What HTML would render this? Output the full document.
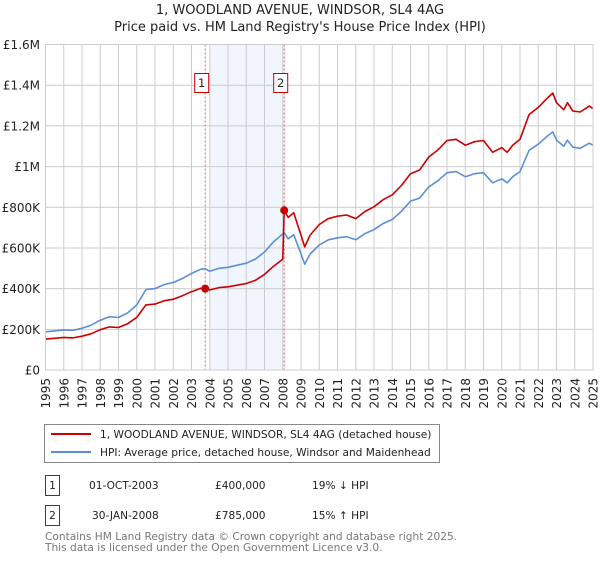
<!DOCTYPE html>
<html><head><meta charset="utf-8"><style>
body{margin:0;background:#fff;font-family:"DejaVu Sans","Liberation Sans",sans-serif;}
svg text{font-family:"DejaVu Sans","Liberation Sans",sans-serif;}
</style></head><body>
<svg id="chart" width="600" height="560" viewBox="0 0 600 560" xmlns="http://www.w3.org/2000/svg">
<text x="300" y="14" text-anchor="middle" font-size="13" fill="#222">1, WOODLAND AVENUE, WINDSOR, SL4 4AG</text>
<text x="300" y="31" text-anchor="middle" font-size="13" fill="#222">Price paid vs. HM Land Registry's House Price Index (HPI)</text>
<g id="plot"></g>
<g>
<rect x="44.5" y="424.5" width="395" height="38" fill="#fff" stroke="#888"/>
<line x1="51" y1="434" x2="91" y2="434" stroke="#cc0000" stroke-width="2"/>
<text x="100" y="438" font-size="10.6" fill="#222">1, WOODLAND AVENUE, WINDSOR, SL4 4AG (detached house)</text>
<line x1="51" y1="452" x2="91" y2="452" stroke="#5b8fd6" stroke-width="2"/>
<text x="100" y="456" font-size="10.6" fill="#222">HPI: Average price, detached house, Windsor and Maidenhead</text>
</g>
<g>
<rect x="45.5" y="475.5" width="14" height="20" fill="#fff" stroke="#cc0000"/>
<text x="52.5" y="489" text-anchor="middle" font-size="10.6" fill="#222">1</text>
<text x="89" y="489" font-size="10.6" fill="#222">01-OCT-2003</text>
<text x="215" y="489" font-size="10.6" fill="#222">£400,000</text>
<text x="312" y="489" font-size="10.6" fill="#222">19% ↓ HPI</text>
<rect x="45.5" y="505.5" width="14" height="20" fill="#fff" stroke="#cc0000"/>
<text x="52.5" y="519" text-anchor="middle" font-size="10.6" fill="#222">2</text>
<text x="92" y="519" font-size="10.6" fill="#222">30-JAN-2008</text>
<text x="215" y="519" font-size="10.6" fill="#222">£785,000</text>
<text x="312" y="519" font-size="10.6" fill="#222">15% ↑ HPI</text>
</g>
<text x="45" y="540" font-size="10.6" fill="#777">Contains HM Land Registry data © Crown copyright and database right 2025.</text>
<text x="45" y="551" font-size="10.6" fill="#777">This data is licensed under the Open Government Licence v3.0.</text>
</svg>
<script>
const hpiDates=[1995,1995.5,1996,1996.5,1997,1997.5,1998,1998.5,1999,1999.5,2000,2000.5,2001,2001.5,2002,2002.5,2003,2003.5,2003.75,2004,2004.5,2005,2005.5,2006,2006.5,2007,2007.5,2008.08,2008.3,2008.6,2009,2009.2,2009.5,2010,2010.5,2011,2011.5,2012,2012.5,2013,2013.5,2014,2014.5,2015,2015.5,2016,2016.5,2017,2017.5,2018,2018.5,2019,2019.5,2020,2020.3,2020.6,2021,2021.5,2022,2022.5,2022.8,2023,2023.4,2023.6,2023.9,2024.3,2024.8,2025];
const hpiValues=[188,192,197,195,205,220,245,262,258,280,320,395,400,420,430,450,475,495,498,485,500,505,515,525,545,580,630,675,645,665,570,520,570,615,640,650,655,640,670,690,720,740,780,830,845,900,930,970,975,950,965,970,920,940,920,950,975,1080,1110,1150,1170,1130,1100,1130,1095,1090,1115,1105];
const propDates=[1995,1995.5,1996,1996.5,1997,1997.5,1998,1998.5,1999,1999.5,2000,2000.5,2001,2001.5,2002,2002.5,2003,2003.5,2003.75,2004,2004.5,2005,2005.5,2006,2006.5,2007,2007.5,2008.0,2008.08,2008.3,2008.6,2009,2009.2,2009.5,2010,2010.5,2011,2011.5,2012,2012.5,2013,2013.5,2014,2014.5,2015,2015.5,2016,2016.5,2017,2017.5,2018,2018.5,2019,2019.5,2020,2020.3,2020.6,2021,2021.5,2022,2022.5,2022.8,2023,2023.4,2023.6,2023.9,2024.3,2024.8,2025];
const propValues=[152,156,160,158,166,178,198,212,209,227,259,320,324,340,348,365,385,401,403,393,405,409,417,425,441,470,510,545,785,750,773,663,605,663,715,744,756,762,744,779,802,837,861,907,965,983,1047,1082,1128,1134,1105,1122,1128,1070,1093,1070,1105,1134,1256,1291,1337,1361,1314,1279,1314,1273,1268,1297,1285];
const saleDates=[2003.75,2008.08];
const saleValues=[400,785];
const saleLabels=["1","2"];
const yTicks=[0,200,400,600,800,1000,1200,1400,1600];
const yTickLabels=["£0","£200K","£400K","£600K","£800K","£1M","£1.2M","£1.4M","£1.6M"];
const xYears=[1995,1996,1997,1998,1999,2000,2001,2002,2003,2004,2005,2006,2007,2008,2009,2010,2011,2012,2013,2014,2015,2016,2017,2018,2019,2020,2021,2022,2023,2024,2025];

const X0=45.5,X1=593,Y0=370,Y1=44.5;
const xs=y=>X0+(y-1995)/30*(X1-X0);
const ys=v=>Y0-v/1600*(Y0-Y1);
const NS="http://www.w3.org/2000/svg";
const plot=document.getElementById('plot');
function mk(tag,attrs,parent){const e=document.createElementNS(NS,tag);for(const k in attrs)e.setAttribute(k,attrs[k]);(parent||plot).appendChild(e);return e;}

const shade=mk('rect',{x:xs(2004),y:Y1,width:xs(saleDates[1])-xs(2004),height:Y0-Y1,fill:'#f1f5fd'});


xYears.forEach(yr=>{
  const l=mk('line',{x1:xs(yr),x2:xs(yr),y1:Y1,y2:Y0,stroke:'#cccccc','stroke-width':1});
  
  
  const t=mk('text',{transform:`translate(${xs(yr)+4.5},${Y0+8}) rotate(-90)`,'text-anchor':'end','font-size':12,fill:'#222'});
  t.textContent=yr;
  
  
});
yTicks.forEach((v,i)=>{
  const l=mk('line',{x1:X0,x2:X1,y1:ys(v),y2:ys(v),stroke:'#cccccc','stroke-width':1});
  
  
  const t=mk('text',{x:40,y:ys(v)+4.5,'text-anchor':'end','font-size':12,fill:'#222'});
  t.textContent=yTickLabels[i];
  
  
});
const re=mk('line',{x1:X1,x2:X1,y1:Y1,y2:Y0,stroke:'#999','stroke-width':1});


saleDates.forEach((d,i)=>{
  const l=mk('line',{x1:xs(d),x2:xs(d),y1:Y1,y2:Y0,stroke:'#e06666','stroke-width':1,'stroke-dasharray':'2,2'});
  
  
});
function path(dates,vals,color,name){
  let d='';dates.forEach((t,i)=>{d+=(i?'L':'M')+xs(t).toFixed(1)+','+ys(vals[i]).toFixed(1);});
  const p=mk('path',{d:d,fill:'none',stroke:color,'stroke-width':1.6,'stroke-linejoin':'round'});
  
  
}
path(hpiDates,hpiValues,'#5b8fd6','hpi-line');
path(propDates,propValues,'#cc0000','property-price-line');
saleDates.forEach((d,i)=>{
  const c=mk('circle',{cx:xs(d),cy:ys(saleValues[i]),r:4,fill:'#cc0000'});
  
  
  const cx=xs(d)-3.5;
  const b=mk('rect',{x:cx-7,y:73.5,width:14,height:19,fill:'#fff',stroke:'#cc0000'});
  
  
  const t=mk('text',{x:cx,y:87,'text-anchor':'middle','font-size':11.5,fill:'#222'});
  t.textContent=saleLabels[i];
  
  
});
const bx=mk('rect',{x:X0,y:Y1,width:X1-X0,height:Y0-Y1,fill:'none',stroke:'#cccccc'});


</script>
</body></html>
